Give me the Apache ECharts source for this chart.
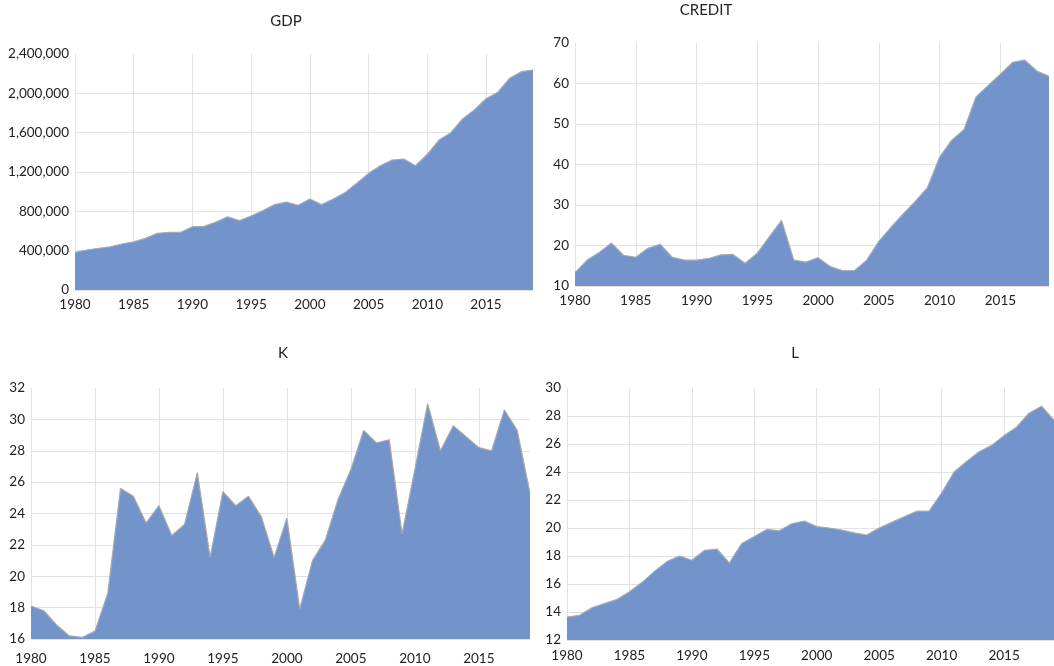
<!DOCTYPE html>
<html><head><meta charset="utf-8">
<script src="https://cdn.jsdelivr.net/npm/echarts@6/dist/echarts.min.js"></script>
<style>html,body{margin:0;padding:0;background:#fff}#c{width:1054px;height:666px}</style>
</head><body><div id="c"></div>
<script>
const years = ['1980','1981','1982','1983','1984','1985','1986','1987','1988','1989',
  '1990','1991','1992','1993','1994','1995','1996','1997','1998','1999',
  '2000','2001','2002','2003','2004','2005','2006','2007','2008','2009',
  '2010','2011','2012','2013','2014','2015','2016','2017','2018','2019'];

const gdp = [383000,407000,424000,440000,468000,490000,525000,576000,586000,586000,
  644000,647000,690000,745000,705000,752000,807000,868000,895000,861000,
  925000,868000,925000,990000,1085000,1186000,1264000,1322000,1332000,1264000,
  1380000,1525000,1600000,1739000,1830000,1945000,2010000,2152000,2220000,2237000];

const credit = [13.3,16.4,18.3,20.6,17.6,17.1,19.3,20.3,17.1,16.4,
  16.4,16.8,17.7,17.8,15.6,18.1,22.2,26.2,16.4,15.9,
  17.0,14.8,13.8,13.8,16.4,21.0,24.5,27.8,30.9,34.3,
  41.8,46.0,48.6,56.7,59.5,62.3,65.2,65.8,63.1,61.8];

const kData = [18.1,17.8,16.9,16.2,16.1,16.5,18.9,25.6,25.1,23.4,
  24.5,22.6,23.3,26.6,21.2,25.4,24.5,25.1,23.8,21.2,
  23.7,17.9,21.0,22.3,24.9,26.8,29.3,28.5,28.7,22.7,
  26.8,31.0,28.0,29.6,28.9,28.2,28.0,30.6,29.3,25.3];

const lData = [13.64,13.76,14.3,14.6,14.9,15.45,16.1,16.9,17.6,18.0,
  17.7,18.4,18.5,17.5,18.9,19.4,19.9,19.8,20.3,20.5,
  20.1,20.0,19.85,19.65,19.5,20.0,20.4,20.8,21.2,21.2,
  22.5,24.0,24.75,25.45,25.9,26.6,27.2,28.2,28.7,27.7];

const titles = ['GDP','CREDIT','K','L'];
const yMins = [0,10,16,12];
const yMaxs = [2400000,70,32,30];
const yIntervals = [400000,10,2,2];

const FONT = 'Lato, "Open Sans", sans-serif';
const TXT = '#222';
const GRIDC = '#e2e2e2';
const FILL = '#7394ca';
const EDGE = '#a9a9a9';

const grids = [
  {left:75, width:458, top:54, height:236},
  {left:575, width:474, top:43, height:243},
  {left:31, width:499, top:388, height:252},
  {left:567, width:494, top:388, height:252}
];
const xLabelMargins = [8, 8, 13, 9];
const titlePos = [[286,21],[706,10],[283,353],[795,353]];
const allData = [gdp, credit, kData, lData];

function fmt(v){ return String(v).replace(/\B(?=(\d{3})+(?!\d))/g, ','); }

const option = {
  animation:false,
  backgroundColor:'#fff',
  grid: grids.map(g => Object.assign({containLabel:false}, g)),
  xAxis: grids.map((g,i) => ({
    type:'category', gridIndex:i, data:years, boundaryGap:false,
    axisLine:{show:false}, axisTick:{show:false},
    axisLabel:{interval:4, color:TXT, fontFamily:FONT, fontSize:13.5, margin:xLabelMargins[i], hideOverlap:false},
    splitLine:{show:true, interval:4, lineStyle:{color:GRIDC, width:1}}
  })),
  yAxis: grids.map((g,i) => ({
    type:'value', gridIndex:i, min:yMins[i], max:yMaxs[i], interval:yIntervals[i],
    axisLine:{show:false}, axisTick:{show:false},
    axisLabel:{color:TXT, fontFamily:FONT, fontSize:13.5, margin:6, formatter: i===0 ? fmt : null},
    splitLine:{show:true, showMaxLine:false, lineStyle:{color:GRIDC, width:1}}
  })),
  series: allData.map((d,i) => ({
    type:'line', xAxisIndex:i, yAxisIndex:i, data:d, symbol:'none',
    lineStyle:{color:EDGE, width:1.2},
    areaStyle:{color:FILL, opacity:1},
    silent:true
  })),
  graphic: titles.map((t,i) => ({
    type:'text', x:titlePos[i][0], y:titlePos[i][1],
    style:{text:t, align:'center', verticalAlign:'middle', textAlign:'center', textVerticalAlign:'middle',
      fontSize:15, fontFamily:FONT, fill:TXT}
  }))
};
const chart = echarts.init(document.getElementById('c'), null, {renderer:'canvas'});
chart.setOption(option);
</script></body></html>
